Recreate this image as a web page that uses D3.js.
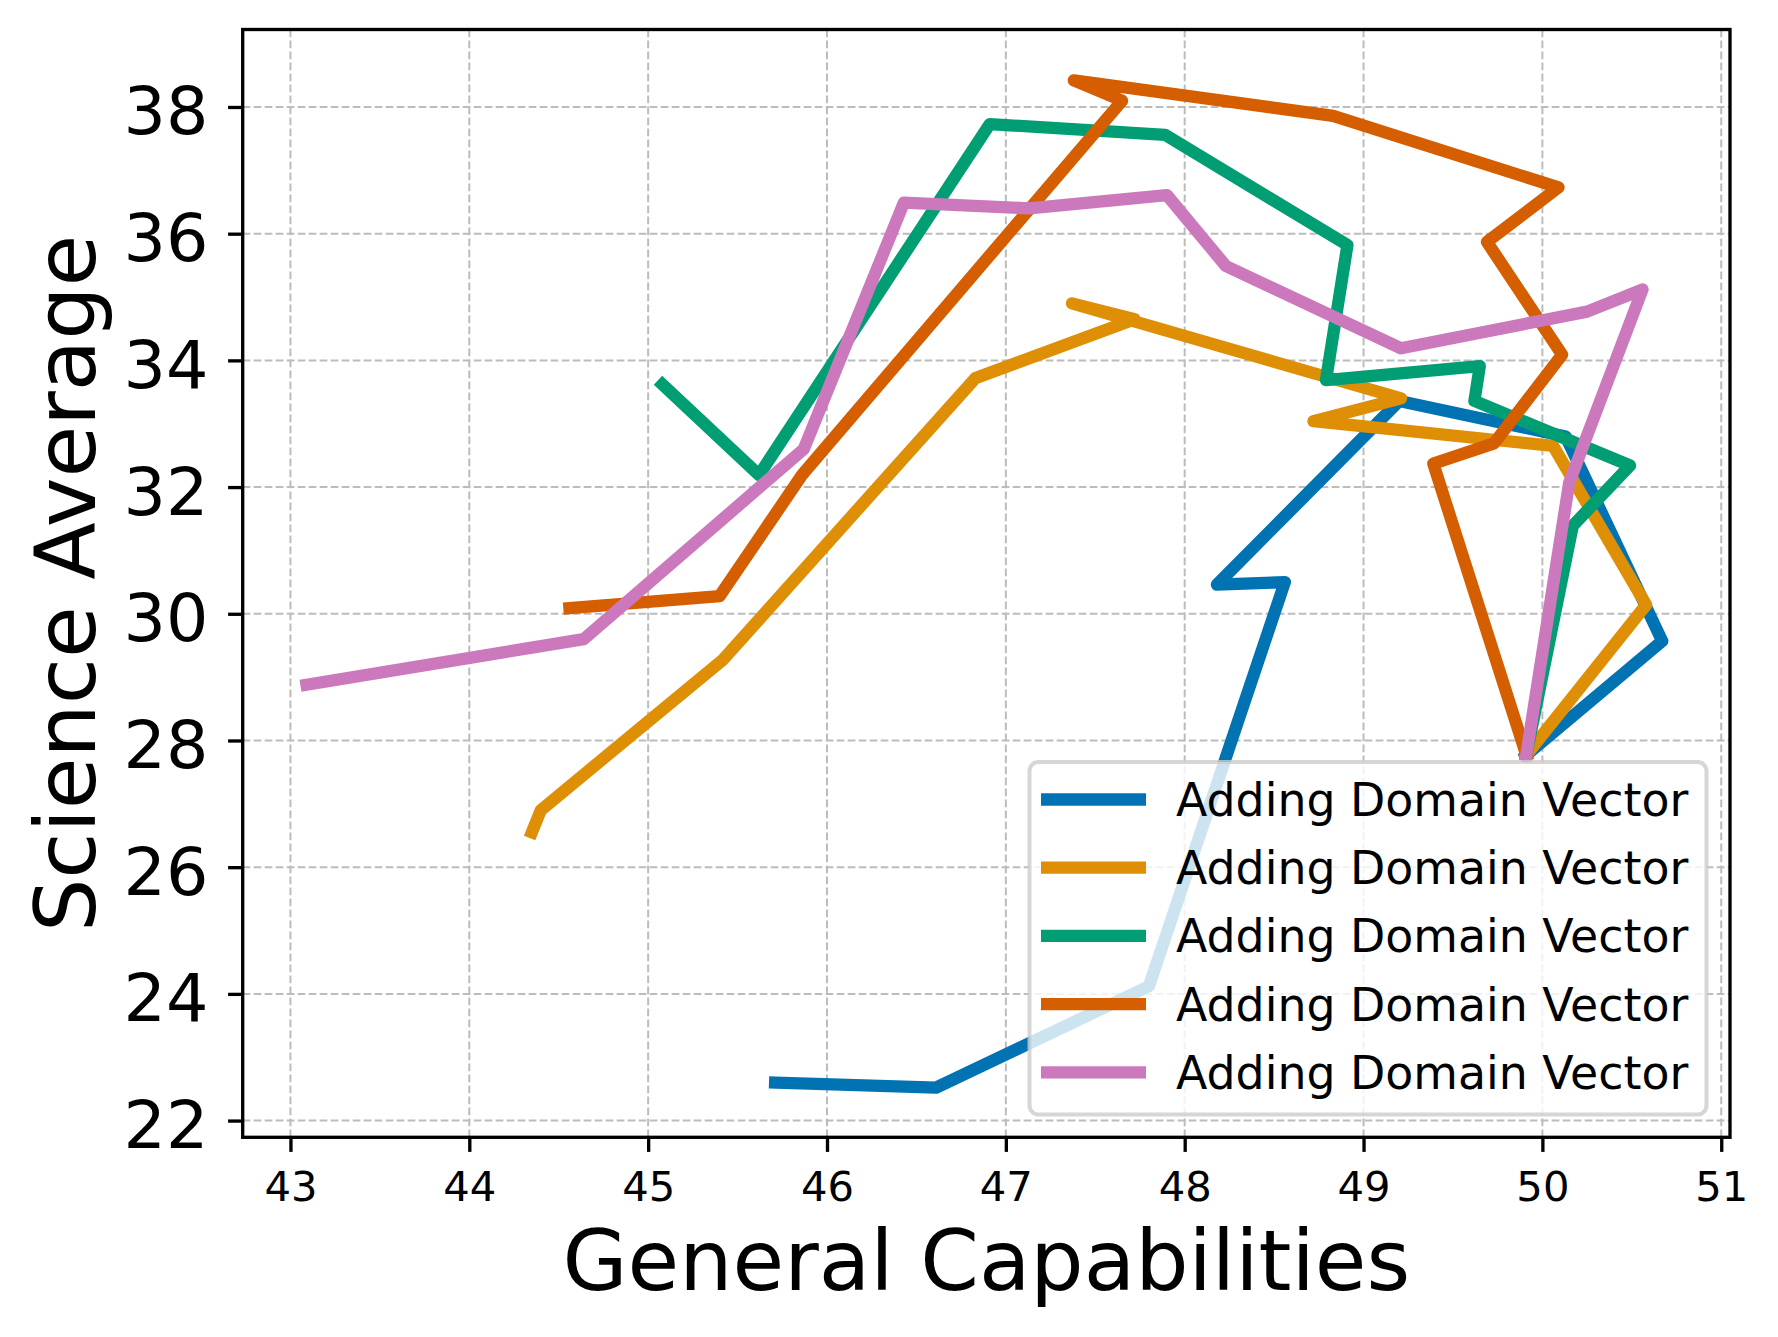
<!DOCTYPE html>
<html>
<head>
<meta charset="utf-8">
<script src="https://cdn.jsdelivr.net/npm/d3@7"></script>
<style>
  html, body { margin: 0; padding: 0; background: #ffffff; }
  svg { display: block; }
  text { font-family: "DejaVu Sans", sans-serif; fill: #000; }
</style>
</head>
<body>
<svg id="chart" width="1778" height="1337"></svg>
<script>
// ---------- data ----------
const seriesNames = ["Adding Domain Vector", "Adding Domain Vector", "Adding Domain Vector", "Adding Domain Vector", "Adding Domain Vector"];
const seriesColors = ["#0173b2", "#de8f05", "#029e73", "#d55e00", "#cc78bc"];

const blueX   = [45.71, 46.61, 47.80, 48.56, 48.18, 49.20, 50.13, 50.67, 49.91];
const blueY   = [22.60, 22.52, 24.12, 30.50, 30.46, 33.36, 32.80, 29.57, 27.77];

const orangeX = [44.35, 44.40, 45.42, 46.83, 47.72, 47.37, 49.21, 48.72, 50.06, 50.58, 49.91];
const orangeY = [26.55, 26.90, 29.28, 33.72, 34.65, 34.90, 33.40, 33.04, 32.65, 30.14, 27.77];

const greenX  = [45.08, 45.62, 46.91, 47.89, 48.91, 48.79, 49.65, 49.62, 50.49, 50.17, 49.91];
const greenY  = [33.62, 32.19, 37.73, 37.56, 35.82, 33.69, 33.91, 33.36, 32.34, 31.39, 27.77];

const redX    = [44.56, 45.40, 45.86, 47.65, 47.38, 48.83, 50.09, 49.69, 50.11, 49.73, 49.39, 49.91];
const redY    = [30.09, 30.28, 32.19, 38.10, 38.42, 37.86, 36.73, 35.87, 34.09, 32.69, 32.37, 27.77];

const pinkX   = [43.09, 44.64, 45.87, 46.43, 47.13, 47.90, 48.23, 49.21, 50.25, 50.56, 50.15, 49.91];
const pinkY   = [28.88, 29.60, 32.60, 36.49, 36.40, 36.61, 35.49, 34.19, 34.77, 35.12, 32.07, 27.77];

const xTicks = [43, 44, 45, 46, 47, 48, 49, 50, 51];
const yTicks = [22, 24, 26, 28, 30, 32, 34, 36, 38];
const xLabel = "General Capabilities";
const yLabel = "Science Average";

// ---------- layout ----------
const svg = d3.select("#chart");
const L = 242.7, R = 1730, T = 29.5, B = 1137.3;
const x = d3.scaleLinear().domain([42.733, 51.049]).range([L, R]);
const y = d3.scaleLinear().domain([21.736, 39.223]).range([B, T]);

const lw = 12.3;

// grid
const grid = svg.append("g");
grid.selectAll(".gx").data(xTicks).enter().append("line")
  .attr("x1", d => x(d)).attr("x2", d => x(d)).attr("y1", T).attr("y2", B)
  .attr("stroke", "#bcbcbc").attr("stroke-width", 2).attr("stroke-dasharray", "7.7,3.3");
grid.selectAll(".gy").data(yTicks).enter().append("line")
  .attr("y1", d => y(d)).attr("y2", d => y(d)).attr("x1", L).attr("x2", R)
  .attr("stroke", "#bcbcbc").attr("stroke-width", 2).attr("stroke-dasharray", "7.7,3.3");

// lines
const allSeries = [
  [blueX, blueY], [orangeX, orangeY], [greenX, greenY], [redX, redY], [pinkX, pinkY]
];
const lineGen = d3.line().x(d => x(d[0])).y(d => y(d[1]));
allSeries.forEach((s, i) => {
  const pts = s[0].map((v, j) => [v, s[1][j]]);
  svg.append("path").datum(pts)
    .attr("d", lineGen)
    .attr("fill", "none")
    .attr("stroke", seriesColors[i])
    .attr("stroke-width", lw)
    .attr("stroke-linecap", "square")
    .attr("stroke-linejoin", "round");
});

// axes
const xAxis = d3.axisBottom(x).tickValues(xTicks).tickSize(14.6).tickPadding(0).tickFormat(d3.format("d"));
const gx = svg.append("g").attr("transform", `translate(0,${B})`).call(xAxis);
gx.select(".domain").remove();
gx.selectAll(".tick line").attr("stroke", "#000").attr("stroke-width", 3.33);
gx.selectAll(".tick text").attr("font-size", "41.7px").attr("dy", null).attr("y", 63.4)
  .attr("font-family", "DejaVu Sans").attr("fill", "#000");

const yAxis = d3.axisLeft(y).tickValues(yTicks).tickSize(14.6).tickPadding(0).tickFormat(d3.format("d"));
const gy = svg.append("g").attr("transform", `translate(${L},0)`).call(yAxis);
gy.select(".domain").remove();
gy.selectAll(".tick line").attr("stroke", "#000").attr("stroke-width", 3.33);
gy.selectAll(".tick text").attr("font-size", "66.7px").attr("dy", null).attr("y", 27)
  .attr("x", -34.4).attr("font-family", "DejaVu Sans").attr("fill", "#000");

// spines
svg.append("rect").attr("x", L).attr("y", T).attr("width", R - L).attr("height", B - T)
  .attr("fill", "none").attr("stroke", "#000").attr("stroke-width", 3.33);

// axis labels
svg.append("text").attr("x", (L + R) / 2).attr("y", 1290)
  .attr("text-anchor", "middle").attr("font-size", "84px").text(xLabel);
svg.append("text").attr("transform", `translate(95,${(T + B) / 2}) rotate(-90)`)
  .attr("text-anchor", "middle").attr("font-size", "84px").text(yLabel);

// legend
const lg = svg.append("g");
lg.append("rect").attr("x", 1029.5).attr("y", 762).attr("width", 677).attr("height", 352.5)
  .attr("rx", 9).attr("ry", 9)
  .attr("fill", "#ffffff").attr("fill-opacity", 0.8)
  .attr("stroke", "#cccccc").attr("stroke-opacity", 0.8).attr("stroke-width", 4);
const rowY0 = 799.5, rowStep = 68.2;
seriesNames.forEach((name, i) => {
  const ry = rowY0 + i * rowStep;
  lg.append("line").attr("x1", 1041).attr("x2", 1146).attr("y1", ry).attr("y2", ry)
    .attr("stroke", seriesColors[i]).attr("stroke-width", lw).attr("stroke-linecap", "butt");
  lg.append("text").attr("x", 1176).attr("y", ry + 16.5).attr("font-size", "45.8px").text(name);
});
</script>
</body>
</html>
